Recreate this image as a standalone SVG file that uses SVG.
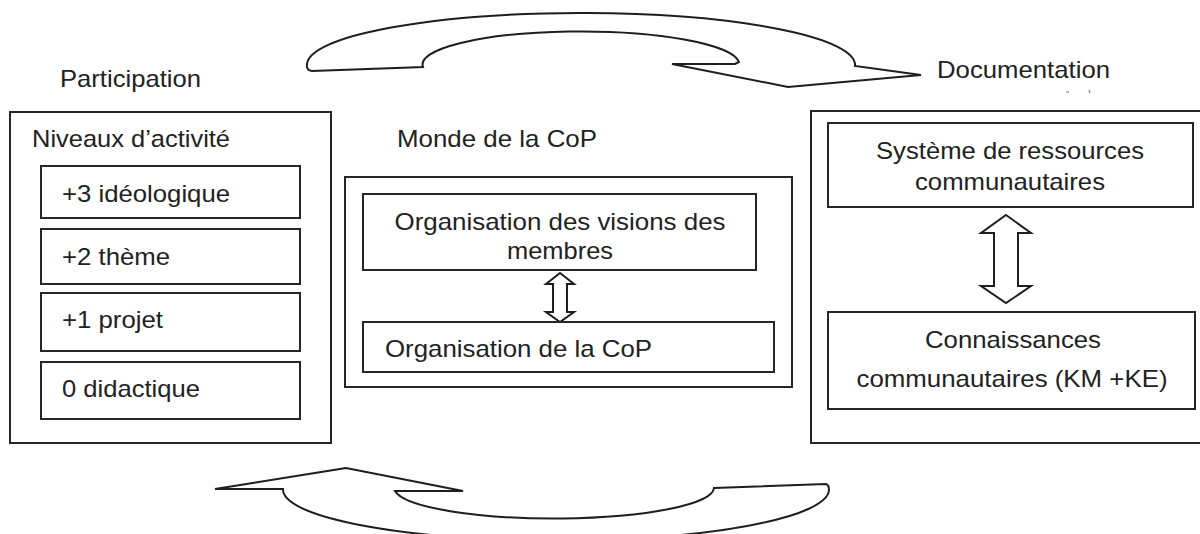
<svg xmlns="http://www.w3.org/2000/svg" width="1200" height="534" viewBox="0 0 1200 534">
<style>
.box{fill:none;stroke:#262626;stroke-width:2}
.arr{fill:#fff;stroke:#1e1e1e;stroke-width:2;stroke-linejoin:miter}
text{font-family:"Liberation Sans",Arial,sans-serif;font-size:24px;fill:#222}
.m{text-anchor:middle}
</style>
<rect width="1200" height="534" fill="#fff"/>
<g id="connectors">
<path class="arr" d="M312,71 L423,67 A158,33 0 0 1 739,62 L735,64 L672,64 L788,87 L921,75 L855,66 A274,52 0 0 0 307,64 Q306,70 312,71 Z"/>
<path class="arr" d="M346,468 L215,489 L283,489 A273,51 0 0 0 829,490 Q829,485 826,484 L714,488 A160,31 0 0 1 395,491 L463,491 Z"/>
<path class="arr" d="M560,273 L574,284 L567,284 L567,312 L574,312 L560,322 L546,312 L553,312 L553,284 L546,284 Z"/>
<path class="arr" d="M1006,215 L1031,233 L1018,233 L1018,286 L1031,286 L1006,303 L981,286 L994,286 L994,233 L981,233 Z"/>
</g>
<g id="participation">
<text x="60" y="87" textLength="141" lengthAdjust="spacingAndGlyphs">Participation</text>
</g>
<g id="documentation">
<text x="937" y="78" textLength="173" lengthAdjust="spacingAndGlyphs">Documentation</text>
<path d="M1066,92 L1069,92 M1089,90 L1090,93" stroke="#777" stroke-width="1.2" fill="none"/>
</g>
<g id="niveaux">
<rect class="box" x="10" y="112" width="321" height="331"/>
<text x="32" y="147" textLength="198" lengthAdjust="spacingAndGlyphs">Niveaux d’activité</text>
</g>
<g id="n3">
<rect class="box" x="41" y="166" width="259" height="52"/>
<text x="62" y="202" textLength="168" lengthAdjust="spacingAndGlyphs">+3 idéologique</text>
</g>
<g id="n2">
<rect class="box" x="41" y="229" width="259" height="55"/>
<text x="62" y="265" textLength="108" lengthAdjust="spacingAndGlyphs">+2 thème</text>
</g>
<g id="n1">
<rect class="box" x="41" y="293" width="259" height="58"/>
<text x="62" y="328" textLength="101" lengthAdjust="spacingAndGlyphs">+1 projet</text>
</g>
<g id="n0">
<rect class="box" x="41" y="362" width="259" height="57"/>
<text x="62" y="397" textLength="138" lengthAdjust="spacingAndGlyphs">0 didactique</text>
</g>
<g id="monde-label">
<text x="397" y="147" textLength="200" lengthAdjust="spacingAndGlyphs">Monde de la CoP</text>
</g>
<g id="monde">
<rect class="box" x="345" y="177" width="447" height="210"/>
</g>
<g id="visions">
<rect class="box" x="363" y="194" width="393" height="76"/>
<text class="m" x="560" y="230" textLength="331" lengthAdjust="spacingAndGlyphs">Organisation des visions des</text>
<text class="m" x="560" y="259" textLength="106" lengthAdjust="spacingAndGlyphs">membres</text>
</g>
<g id="orgcop">
<rect class="box" x="363" y="322" width="411" height="50"/>
<text x="385" y="357" textLength="267" lengthAdjust="spacingAndGlyphs">Organisation de la CoP</text>
</g>
<g id="doc-box">
<rect class="box" x="811" y="111" width="400" height="332"/>
</g>
<g id="ressources">
<rect class="box" x="828" y="123" width="365" height="84"/>
<text class="m" x="1010" y="159" textLength="268" lengthAdjust="spacingAndGlyphs">Système de ressources</text>
<text class="m" x="1010" y="190" textLength="190" lengthAdjust="spacingAndGlyphs">communautaires</text>
</g>
<g id="connaissances">
<rect class="box" x="828" y="312" width="367" height="97"/>
<text class="m" x="1013" y="348" textLength="176" lengthAdjust="spacingAndGlyphs">Connaissances</text>
<text class="m" x="1012" y="387" textLength="311" lengthAdjust="spacingAndGlyphs">communautaires (KM +KE)</text>
</g>
</svg>
